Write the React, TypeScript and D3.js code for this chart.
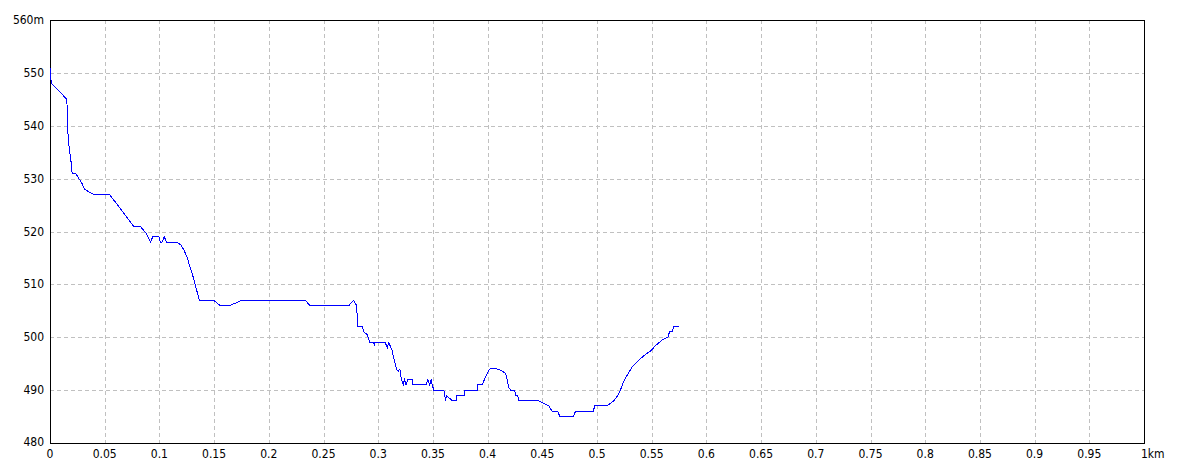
import React from "react";
import * as d3 from "d3";

const distKm: number[] = [
  0, 0, 0.001, 0.015, 0.0155, 0.0165, 0.0176, 0.0189, 0.0198, 0.0229, 0.026, 0.029, 0.031, 0.035, 0.04,
  0.054, 0.076, 0.082, 0.088, 0.0914, 0.0935, 0.099, 0.1005, 0.102, 0.104, 0.106, 0.115, 0.119, 0.122,
  0.125, 0.128, 0.131, 0.1335, 0.136, 0.149, 0.155, 0.164, 0.175, 0.233, 0.237, 0.2727, 0.2772, 0.2797,
  0.281, 0.285, 0.2865, 0.2895, 0.292, 0.2955, 0.296, 0.2965, 0.306, 0.3078, 0.3092, 0.3123, 0.3138,
  0.3163, 0.3178, 0.3193, 0.3208, 0.3224, 0.3235, 0.325, 0.3265, 0.3312, 0.3312, 0.3434, 0.3449, 0.3467,
  0.348, 0.3489, 0.3504, 0.3595, 0.3611, 0.362, 0.3672, 0.3711, 0.3711, 0.3787, 0.3787, 0.39, 0.39,
  0.3946, 0.3976, 0.4001, 0.4016, 0.4083, 0.4113, 0.4159, 0.4175, 0.4189, 0.4205, 0.4244, 0.425, 0.4271,
  0.4281, 0.4463, 0.4509, 0.4555, 0.4586, 0.4637, 0.4655, 0.4778, 0.4799, 0.4961, 0.4975, 0.5082, 0.5119,
  0.5149, 0.5186, 0.521, 0.5235, 0.5271, 0.5317, 0.5363, 0.5423, 0.5484, 0.553, 0.5591, 0.5643, 0.5658,
  0.5683, 0.5697, 0.5743,
];

const elevM: number[] = [
  551, 549.3, 548, 545, 540, 537, 535, 533, 531, 531, 530, 529, 528, 527.5, 527,
  527, 521, 521, 519.5, 518, 519, 519, 518, 518, 519, 518, 518, 517.5, 516.5,
  515, 513, 511, 509, 507, 507, 506, 506, 507, 507, 506, 506, 507, 506,
  502, 502, 501, 500.5, 499, 499, 498.4, 499, 499, 498, 499, 497.5, 496,
  494, 493.5, 494, 492, 491, 492, 491, 492, 492, 491, 491, 492, 491,
  492, 491, 490, 490, 488, 489, 488, 488, 489, 489, 490, 490, 491,
  491, 492.5, 493.5, 494, 494, 493.8, 493.2, 492, 490.5, 490, 490, 489, 489,
  488, 488, 487.5, 487, 486, 486, 485, 485, 486, 486, 487, 487, 487.5,
  488, 489, 490, 491.5, 492.8, 494.4, 495.4, 496.5, 497.4, 498.4, 499.5, 500, 501,
  501, 502, 502,
];

const xTicks: number[] = d3.range(0, 20).map((i) => +(i * 0.05).toFixed(2));
const xTickLabels: string[] = xTicks.map((v) => (v === 0 ? "0" : String(v)));
const yTicks: number[] = [480, 490, 500, 510, 520, 530, 540, 550, 560];

const W = 1184;
const H = 473;
const L = 50;
const R = 1144;
const T = 20;
const B = 443;

export default function App() {
  const x = d3.scaleLinear().domain([0, 1]).range([L, R]);
  const y = d3.scaleLinear().domain([480, 560]).range([B, T]);
  const pts: [number, number][] = distKm.map((d, i) => [d, elevM[i]]);
  const line = d3
    .line<[number, number]>()
    .x((d) => x(d[0]) + 0.5)
    .y((d) => y(d[1]));
  const font = "'Liberation Sans Narrow', 'DejaVu Sans Condensed', 'Liberation Sans', sans-serif";

  return (
    <svg
      width={W}
      height={H}
      style={{ position: "absolute", left: 0, top: 0, background: "#fff" }}
      fontFamily={font}
      fontSize={12}
    >
      <rect x={0} y={0} width={W} height={H} fill="#fff" />
      {xTicks.slice(1).map((v) => (
        <line
          key={"gx" + v}
          x1={Math.round(x(v)) + 0.5}
          x2={Math.round(x(v)) + 0.5}
          y1={T}
          y2={B}
          stroke="#c0c0c0"
          strokeDasharray="4,3"
          shapeRendering="crispEdges"
        />
      ))}
      {yTicks.slice(1, -1).map((v) => (
        <line
          key={"gy" + v}
          x1={L}
          x2={R}
          y1={Math.round(y(v)) + 0.5}
          y2={Math.round(y(v)) + 0.5}
          stroke="#c0c0c0"
          strokeDasharray="4,3"
          shapeRendering="crispEdges"
        />
      ))}
      <rect
        x={L + 0.5}
        y={T + 0.5}
        width={R - L}
        height={B - T}
        fill="none"
        stroke="#000"
        strokeWidth={1}
        shapeRendering="crispEdges"
      />
      <path
        d={line(pts) || ""}
        fill="none"
        stroke="#0000ff"
        strokeWidth={1}
        shapeRendering="crispEdges"
      />
      {yTicks.map((v) => (
        <text
          key={"ly" + v}
          x={44}
          y={v === 480 ? y(v) - 1 : y(v)}
          textAnchor="end"
          dominantBaseline="central"
          fill="#000"
        >
          {v === 560 ? "560m" : String(v)}
        </text>
      ))}
      {xTicks.map((v, i) => (
        <text key={"lx" + v} x={x(v)} y={458} textAnchor="middle" fill="#000">
          {xTickLabels[i]}
        </text>
      ))}
      <text x={1141} y={458} textAnchor="start" fill="#000">
        1km
      </text>
    </svg>
  );
}
